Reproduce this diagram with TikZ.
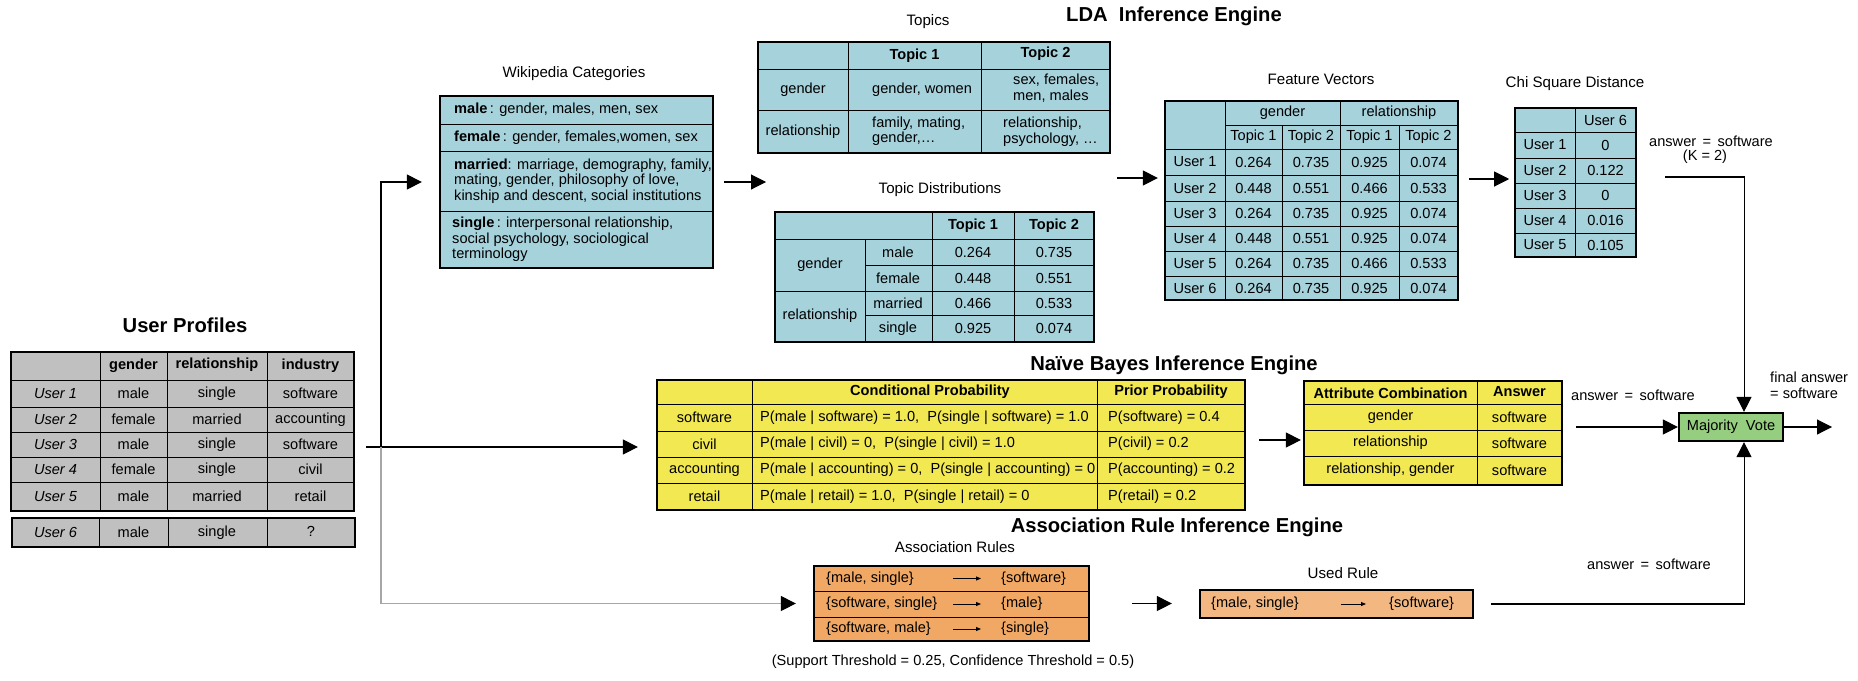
\documentclass[tikz,border=0pt]{standalone}
\usepackage{fontspec}
\setmainfont{Liberation Sans}
\usepackage{tikz}
\usetikzlibrary{arrows.meta,positioning,fit,calc}

\definecolor{profgray}{RGB}{192,192,192}
\definecolor{ldablue}{RGB}{166,210,220}
\definecolor{nbyellow}{RGB}{242,232,82}
\definecolor{rulesorange}{RGB}{240,168,100}
\definecolor{usedorange}{RGB}{243,184,130}
\definecolor{votegreen}{RGB}{150,206,128}

\newcommand{\bodysize}{\fontsize{8.3}{8.8}\selectfont}

\tikzset{
  enginetitle/.style={font=\fontsize{11.5}{13}\selectfont\bfseries},
  tabletitle/.style={font=\fontsize{8.6}{10}\selectfont},
  head/.style={font=\bodysize\bfseries},
  tablebox/.style={draw, line width=1.3pt, inner sep=0pt},
  cellline/.style={line width=0.5pt},
  flow/.style={line width=0.6pt, -{Triangle[length=0.3cm,width=0.3cm]}},
  flowgray/.style={line width=0.6pt, draw=black!35, -{Triangle[length=0.3cm,width=0.3cm,color=black]}},
  rulearrow/.style={line width=0.5pt, -{Triangle[length=0.1cm,width=0.08cm]}},
}

\begin{document}
\begin{tikzpicture}[x=0.02cm, y=-0.02cm, font=\bodysize]
    \useasboundingbox (0,0) rectangle (1858,680);

    % User Profiles
    \node[enginetitle] (profTitle) at (185,325) {User Profiles};
    \node[tablebox, fill=profgray, fit={(11,352) (354,511)}] (profiles) {};
    \foreach \x in {100,167,267} \draw[cellline] (\x,352) -- (\x,511);
    \foreach \y in {380,407,432,457,482} \draw[cellline] (11,\y) -- (354,\y);
    \node[head] (profH1) at (133.5,366) {gender};
    \node[head] (profH2) at (217,365) {relationship};
    \node[head] (profH3) at (310.5,366) {industry};
    \foreach \n/\y/\g/\r/\ind in {1/393.5/male/single/software, 2/419.5/female/married/accounting,
        3/444.5/male/single/software, 4/469.5/female/single/civil, 5/496.5/male/married/retail} {
      \node[font=\bodysize\itshape] (prof-\n-u) at (55.5,\y) {User \n};
      \node (prof-\n-g) at (133.5,\y) {\g};
      \node (prof-\n-r) at (217,\y) {\r};
      \node (prof-\n-i) at (310.5,\y) {\ind};
    }
    \node[tablebox, fill=profgray, fit={(12,518) (355,547)}] (newuser) {};
    \foreach \x in {99,168,267} \draw[cellline] (\x,518) -- (\x,547);
    \node[font=\bodysize\itshape] (new-u) at (55.5,532.5) {User 6};
    \node (new-g) at (133.5,532.5) {male};
    \node (new-r) at (217,532.5) {single};
    \node (new-i) at (311,531) {?};

    % LDA Inference Engine
    \node[enginetitle] (ldaTitle) at (1174,16) {LDA~~Inference Engine};

    % Wikipedia Categories
    \node[tabletitle] (wikiTitle) at (574,74) {Wikipedia Categories};
    \node[tablebox, fill=ldablue, fit={(440,96) (713,268)}] (wiki) {};
    \foreach \y in {124,151,211} \draw[cellline] (440,\y) -- (713,\y);
    \node[anchor=west] (wikiMale) at (448,110) {\textbf{male}\,: gender, males, men, sex};
    \node[anchor=west] (wikiFemale) at (448,137.5) {\textbf{female}\,: gender, females,women, sex};
    \node[anchor=west, align=left] (wikiMarried) at (448,181) {\textbf{married}: marriage, demography, family,\\mating, gender, philosophy of love,\\kinship and descent, social institutions};
    \node[anchor=west, align=left] (wikiSingle) at (446,239.5) {\textbf{single}\,: interpersonal relationship,\\social psychology, sociological\\terminology};

    % Topics
    \node[tabletitle] (topicsTitle) at (928,22) {Topics};
    \node[tablebox, fill=ldablue, fit={(758,42) (1110,153)}] (topics) {};
    \foreach \x in {848,981} \draw[cellline] (\x,42) -- (\x,153);
    \foreach \y in {69,110} \draw[cellline] (758,\y) -- (1110,\y);
    \node[head] (topicsH1) at (914.5,55.5) {Topic 1};
    \node[head] (topicsH2) at (1045.5,54) {Topic 2};
    \node (topicsGender) at (803,89.5) {gender};
    \node (topicsRel) at (803,131.5) {relationship};
    \node[anchor=west] (topicsG1) at (866,89.5) {gender, women};
    \node[anchor=west, align=left] (topicsG2) at (1007,88) {sex, females,\\men, males};
    \node[anchor=west, align=left] (topicsR1) at (866,131) {family, mating,\\gender,\ldots};
    \node[anchor=west, align=left] (topicsR2) at (997,131.5) {relationship,\\psychology, \ldots};

    % Topic Distributions
    \node[tabletitle] (distTitle) at (940,190) {Topic Distributions};
    \node[tablebox, fill=ldablue, fit={(775,212) (1094,342)}] (dist) {};
    \foreach \x in {932,1014} \draw[cellline] (\x,212) -- (\x,342);
    \draw[cellline] (865,239) -- (865,342);
    \foreach \y in {239,291} \draw[cellline] (775,\y) -- (1094,\y);
    \foreach \y in {265,315} \draw[cellline] (865,\y) -- (1094,\y);
    \node[head] (distH1) at (973,225.5) {Topic 1};
    \node[head] (distH2) at (1054,225.5) {Topic 2};
    \node (distGender) at (820,265) {gender};
    \node (distRel) at (820,316) {relationship};
    \foreach \n/\y/\w/\a/\b in {1/252/male/0.264/0.735, 2/278/female/0.448/0.551,
        3/303/married/0.466/0.533, 4/328.5/single/0.925/0.074} {
      \node (dist-\n-w) at (898,\y) {\w};
      \node (dist-\n-a) at (973,\y) {\a};
      \node (dist-\n-b) at (1054,\y) {\b};
    }

    % Feature Vectors
    \node[tabletitle] (fvecTitle) at (1321,79) {Feature Vectors};
    \node[tablebox, fill=ldablue, fit={(1165,101) (1458,300)}] (fvec) {};
    \foreach \x in {1225,1340} \draw[cellline] (\x,101) -- (\x,300);
    \foreach \x in {1282,1399} \draw[cellline] (\x,125) -- (\x,300);
    \draw[cellline] (1225,125) -- (1458,125);
    \foreach \y in {149,175,201,226,251,276} \draw[cellline] (1165,\y) -- (1458,\y);
    \node (fvecGender) at (1282.5,113) {gender};
    \node (fvecRel) at (1399,113) {relationship};
    \foreach \x/\t [count=\k] in {1253.5/1, 1311/2, 1369.5/1, 1428.5/2}
      \node (fvecT\k) at (\x,137) {Topic \t};
    \foreach \n/\y/\a/\b/\c/\d in {1/162/0.264/0.735/0.925/0.074, 2/188/0.448/0.551/0.466/0.533,
        3/213.5/0.264/0.735/0.925/0.074, 4/238.5/0.448/0.551/0.925/0.074,
        5/263.5/0.264/0.735/0.466/0.533, 6/288/0.264/0.735/0.925/0.074} {
      \node (fvec-\n-u) at (1195,\y) {User \n};
      \node (fvec-\n-a) at (1253.5,\y) {\a};
      \node (fvec-\n-b) at (1311,\y) {\b};
      \node (fvec-\n-c) at (1369.5,\y) {\c};
      \node (fvec-\n-d) at (1428.5,\y) {\d};
    }

    % Chi Square Distance
    \node[tabletitle] (chiTitle) at (1575,84) {Chi Square Distance};
    \node[tablebox, line width=0.9pt, fill=ldablue, fit={(1515,108) (1636,257)}] (chi) {};
    \draw[cellline] (1575,108) -- (1575,257);
    \foreach \y in {132,158,183,208,233} \draw[cellline] (1515,\y) -- (1636,\y);
    \node (chiHead) at (1605.5,120) {User 6};
    \foreach \n/\y/\v in {1/145/0, 2/170.5/0.122, 3/195.5/0, 4/220.5/0.016, 5/245/0.105} {
      \node (chi-\n-u) at (1545,\y) {User \n};
      \node (chi-\n-v) at (1605.5,\y) {\v};
    }
    \node (knnAnswer) at (1711,141) {answer \,=\, software};
    \node (knnK) at (1705,157) {(K = 2)};

    % Naive Bayes Inference Engine
    \node[enginetitle] (nbTitle) at (1174,365) {Naïve Bayes Inference Engine};
    \node[tablebox, fill=nbyellow, fit={(657,380) (1245,510)}] (nbayes) {};
    \foreach \x in {752,1097} \draw[cellline] (\x,380) -- (\x,510);
    \foreach \y in {404,431,457,483} \draw[cellline] (657,\y) -- (1245,\y);
    \node[head] (nbH1) at (930,392) {Conditional Probability};
    \node[head] (nbH2) at (1171,392) {Prior Probability};
    \foreach \n/\y/\c/\p/\q in {
        1/417.5/software/{P(male | software) = 1.0,~~P(single | software) = 1.0}/{P(software) = 0.4},
        2/444/civil/{P(male | civil) = 0,~~P(single | civil) = 1.0}/{P(civil) = 0.2},
        3/470/accounting/{P(male | accounting) = 0,~~P(single | accounting) = 0}/{P(accounting) = 0.2},
        4/496.5/retail/{P(male | retail) = 1.0,~~P(single | retail) = 0}/{P(retail) = 0.2}} {
      \node (nb-\n-c) at (704.5,\y) {\c};
      \node[anchor=west] (nb-\n-p) at (754,\y) {\p};
      \node[anchor=west] (nb-\n-q) at (1102,\y) {\q};
    }

    % Attribute Combination
    \node[tablebox, fill=nbyellow, fit={(1304,381) (1562,485)}] (attr) {};
    \draw[cellline] (1477,381) -- (1477,485);
    \foreach \y in {404,430,456} \draw[cellline] (1304,\y) -- (1562,\y);
    \node[head] (attrH1) at (1390.5,393) {Attribute Combination};
    \node[head] (attrH2) at (1519.5,392) {Answer};
    \foreach \n/\y/\a in {1/417/gender, 2/443/relationship, 3/470/{relationship, gender}} {
      \node (attr-\n-a) at (1390.5,\y) {\a};
      \node (attr-\n-s) at (1519.5,\y) {software};
    }

    % Majority Vote
    \node[draw, line width=1.3pt, fill=votegreen, minimum width=2.08cm, minimum height=0.56cm,
          inner sep=0pt] (vote) at (1731,427) {Majority~~Vote};
    \node (nbAnswer) at (1633,395) {answer \,=\, software};
    \node[anchor=west, align=left] (finalAnswer) at (1764,385.5) {final answer\\= software};
    \node (arAnswer) at (1649,564) {answer \,=\, software};

    % Association Rule Inference Engine
    \node[enginetitle] (arTitle) at (1177,527) {Association Rule Inference Engine};
    \node[tabletitle] (rulesTitle) at (955,547) {Association Rules};
    \node[tablebox, fill=rulesorange, fit={(814,566) (1089,641)}] (rules) {};
    \foreach \y in {591,617} \draw[cellline] (814,\y) -- (1089,\y);
    \foreach \n/\y/\l/\r in {1/578.5/{\{male, single\}}/{\{software\}},
        2/604/{\{software, single\}}/{\{male\}}, 3/629/{\{software, male\}}/{\{single\}}} {
      \node[anchor=west] (rule-\n-l) at (820,\y) {\l};
      \node[anchor=west] (rule-\n-r) at (995,\y) {\r};
      \draw[rulearrow] (953,\y) -- (981,\y);
    }
    \node (thresholds) at (953,662) {(Support Threshold = 0.25, Confidence Threshold = 0.5)};
    \node[tabletitle] (usedTitle) at (1343,573) {Used Rule};
    \node[tablebox, fill=usedorange, fit={(1200,590) (1473,618)}] (usedrule) {};
    \node[anchor=west] (used-l) at (1205,604) {\{male, single\}};
    \draw[rulearrow] (1341,604) -- (1366,604);
    \node[anchor=west] (used-r) at (1383,604) {\{software\}};

    % Connectors
    \coordinate (profOut) at (366,447);
    \coordinate (split) at (381,447);
    \coordinate (ldaTip) at (766,182);
    \coordinate (ldaOut) at (1117,178);
    \coordinate (fvOut) at (1469,179);
    \coordinate (knnOut) at (1665,177);
    \coordinate (nbOut) at (1259,440);
    \coordinate (finalTip) at (1832,427);
    \draw[flow, shorten >=0.36cm] (profOut) -- (profOut -| nbayes.west);
    \draw[flow, shorten >=0.34cm] (split) |- (wiki.west);
    \draw[flowgray, shorten >=0.34cm] (split) |- (rules.west);
    \draw[flow, shorten <=0.2cm] (wiki.east) -- (ldaTip);
    \draw[flow, shorten >=0.12cm] (ldaOut) -- (ldaOut -| fvec.west);
    \draw[flow, shorten >=0.1cm] (fvOut) -- (fvOut -| chi.west);
    \draw[flow] (knnOut) -| ($(vote.north)+(13,0)$);
    \draw[flow, shorten >=0.04cm] (nbOut) -- (nbOut -| attr.west);
    \draw[flow, shorten <=0.26cm] (attr.east |- vote.west) -- (vote.west);
    \draw[flow] (vote.east) -- (finalTip);
    \draw[flow, shorten <=0.34cm] (usedrule.east) -| ($(vote.south)+(13,0)$);
    \draw[flow, shorten <=0.84cm, shorten >=0.54cm] (rules.east) -- (rules.east -| usedrule.west);
\end{tikzpicture}
\end{document}
